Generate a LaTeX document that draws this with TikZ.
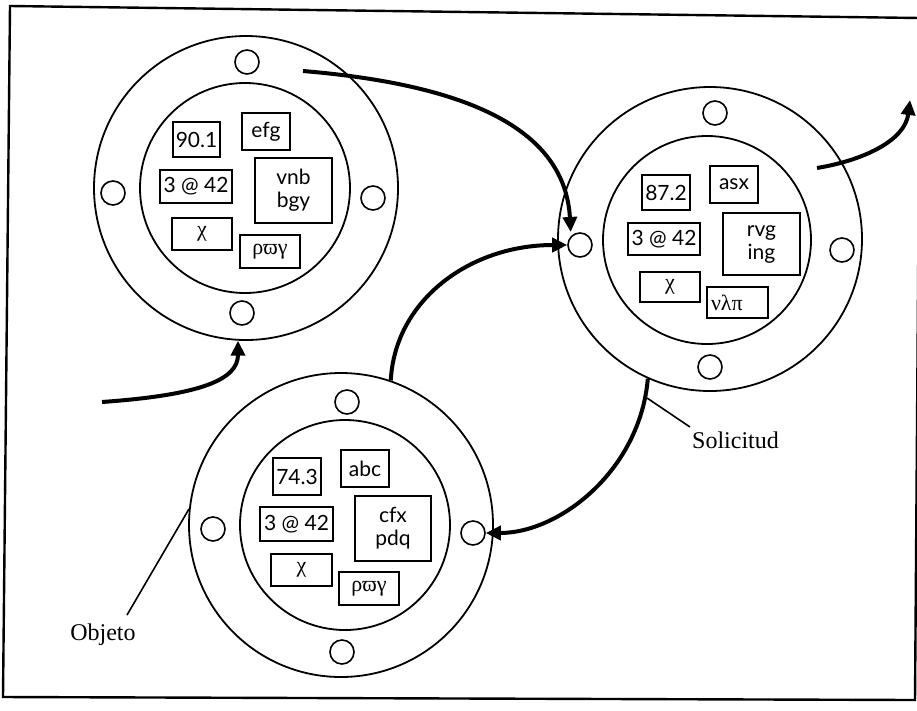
\documentclass[tikz,border=0pt]{standalone}
\usepackage{fontspec}
\setmainfont{Liberation Serif}
\newfontfamily\boxfont{Lato}
\usetikzlibrary{arrows.meta}
\begin{document}
\begin{tikzpicture}[x=1pt,y=-1pt,
  ring/.style={circle,draw,line width=1.8pt,inner sep=0pt},
  port/.style={circle,draw,line width=1.6pt,minimum size=24pt,inner sep=0pt},
  field/.style={draw,line width=1.8pt,inner sep=2pt,align=center,
    font=\boxfont\fontsize{21}{23}\selectfont},
  greek/.style={font=\rmfamily\fontsize{22}{24}\selectfont},
  flow/.style={line width=4pt,-{Triangle[length=15pt,width=14pt]}},
  leader/.style={line width=1.6pt},
  lbl/.style={font=\fontsize{24}{26}\selectfont}]

% page size and outer frame
\useasboundingbox (0,0) rectangle (917,710);
\draw[line width=2.4pt] (10,6) -- (920,18) -- (915,700) -- (3,697) -- cycle;

% ---------- object A (upper left) ----------
\node[ring,minimum size=304pt] (Ao) at (246,188) {};
\node[ring,minimum size=210pt] (Ai) at (245,188) {};
\node[port] (At) at (247,62) {};
\node[port] (Al) at (113,193) {};
\node[port] (Ar) at (373,198) {};
\node[port] (Ab) at (242,313) {};
\node[field,minimum width=47pt,minimum height=35pt] (a1) at (196.5,139.5) {90.1};
\node[field,minimum width=48pt,minimum height=37pt] (a2) at (266,131.5) {efg};
\node[field,minimum width=72pt,minimum height=33pt] (a3) at (196,186.5) {3 @ 42};
\node[field,minimum width=77pt,minimum height=65pt] (a4) at (293.5,190.5) {vnb\\bgy};
\node[field,greek,minimum width=60pt,minimum height=32pt] (a5) at (202,234) {χ};
\node[field,greek,minimum width=60pt,minimum height=33pt] (a6) at (270,251.5) {ρϖγ};

% ---------- object B (right) ----------
\node[ring,minimum size=304pt] (Bo) at (710,239) {};
\node[ring,minimum size=208pt] (Bi) at (707,240) {};
\node[port] (Bt) at (715,113) {};
\node[port] (Bl) at (580,245) {};
\node[port] (Br) at (842,250) {};
\node[port] (Bb) at (710,367) {};
\node[field,minimum width=48pt,minimum height=35pt] (b1) at (666,192.5) {87.2};
\node[field,minimum width=48pt,minimum height=37pt] (b2) at (734,184.5) {asx};
\node[field,minimum width=72pt,minimum height=32pt] (b3) at (664,239) {3 @ 42};
\node[field,minimum width=77pt,minimum height=62pt] (b4) at (761.5,244) {rvg\\ing};
\node[field,greek,minimum width=60pt,minimum height=30pt] (b5) at (670,287) {χ};
\node[field,greek,minimum width=61pt,minimum height=31pt,text width=53pt,align=left] (b6) at (737.5,302.5) {νλπ};

% ---------- object C (lower left) ----------
\node[ring,minimum size=304pt] (Co) at (341,525) {};
\node[ring,minimum size=210pt] (Ci) at (345,525) {};
\node[port] (Ct) at (347,402) {};
\node[port] (Cl) at (213,529) {};
\node[port] (Cr) at (473,533) {};
\node[port] (Cb) at (342,652) {};
\node[field,minimum width=48pt,minimum height=37pt] (c1) at (297,476.5) {74.3};
\node[field,minimum width=48pt,minimum height=37pt] (c2) at (365,468.5) {abc};
\node[field,minimum width=73pt,minimum height=34pt] (c3) at (296.5,524) {3 @ 42};
\node[field,minimum width=76pt,minimum height=65pt] (c4) at (393,528.5) {cfx\\pdq};
\node[field,greek,minimum width=61pt,minimum height=32pt] (c5) at (301.5,570) {χ};
\node[field,greek,minimum width=60pt,minimum height=33pt] (c6) at (369,588.5) {ρϖγ};

% ---------- messages ----------
\coordinate (s1) at (303,71);
\coordinate (s3) at (102,402);
\coordinate (s4) at (817,168);
\coordinate (e4) at (910,100);

\draw[flow,shorten >=4pt] (s1) .. controls (470,85) and (565,130) .. (Bl.north west);
\draw[flow] (Co.71) .. controls (395,300) and (470,245) .. (Bl.west);
\draw[flow] (s3) .. controls (200,395) and (238,380) .. (Ao.-93);
\draw[flow] (s4) .. controls (865,160) and (905,140) .. (e4);
\draw[flow] (Bo.-114) .. controls (640,470) and (560,533) .. (Cr.east);

% ---------- labels ----------
\coordinate (sq) at (647,398);
\node[lbl,anchor=north west,inner sep=0pt] (sol) at (692,432) {Solicitud};
\draw[leader] (sq) -- (690,427);
\node[lbl,inner sep=0pt] (obj) at (103,635) {Objeto};
\draw[leader] (Co.174) -- (127,615);
\end{tikzpicture}
\end{document}
